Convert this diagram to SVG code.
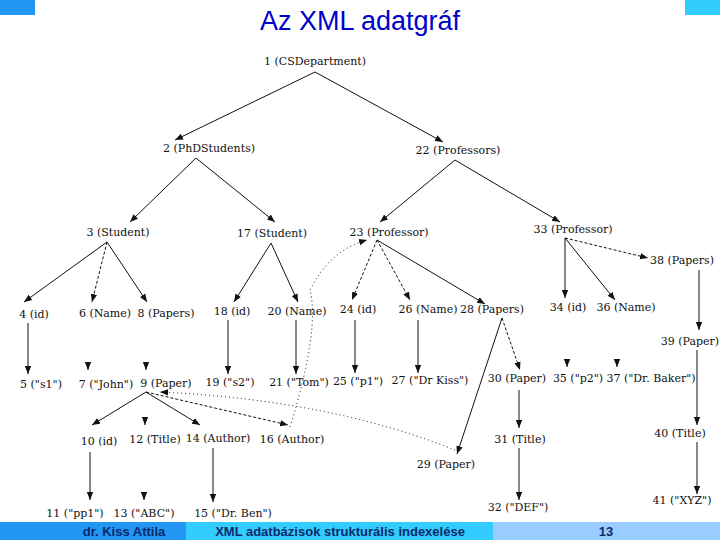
<svg xmlns="http://www.w3.org/2000/svg" width="720" height="540" viewBox="0 0 720 540">
<style>
.n{font-family:'DejaVu Serif','Liberation Serif',serif;font-size:11px;fill:#111;text-anchor:middle}
.e{stroke:#111;stroke-width:1;fill:none;marker-end:url(#a)}
.d{stroke-dasharray:3,2}
.o{stroke-dasharray:1,3}
.f{font-family:'Liberation Sans',sans-serif;font-size:13px;font-weight:bold;fill:#0a2a6a;text-anchor:middle}
</style>
<defs><marker id="a" viewBox="0 0 10 10" refX="10" refY="5" markerWidth="8" markerHeight="8" orient="auto-start-reverse"><path d="M0,1 L10,5 L0,9 z" fill="#111"/></marker></defs>
<rect width="720" height="540" fill="#fff"/>
<rect x="0" y="0" width="35" height="15" fill="#2196f3"/>
<rect x="685" y="0" width="35" height="15" fill="#33ccff"/>
<text x="360" y="30" font-family="Liberation Sans,sans-serif" font-size="27" fill="#0000cc" text-anchor="middle">Az XML adatgráf</text>
<g id="connectors">
<path class="e" d="M315,72 L175,140"/>
<path class="e" d="M315,72 L443,142"/>
<path class="e" d="M196,158 L130,222"/>
<path class="e" d="M196,158 L275,222"/>
<path class="e" d="M455,160 L380,222"/>
<path class="e" d="M455,160 L560,222"/>
<path class="e" d="M107,242 L24,302"/>
<path class="e d" d="M107,242 L92,302"/>
<path class="e" d="M107,242 L147,302"/>
<path class="e" d="M271,243 L234,302"/>
<path class="e" d="M271,243 L298,302"/>
<path class="e d" d="M377,240 L352,300"/>
<path class="e d" d="M377,240 L410,300"/>
<path class="e" d="M377,240 L485,304"/>
<path class="e" d="M565,238 L565,298"/>
<path class="e" d="M565,238 L615,300"/>
<path class="e d" d="M565,238 L648,258"/>
<path class="e" d="M699,270 L699,330"/>
<path class="e" d="M697,350 L697,425"/>
<path class="e" d="M697,442 L697,494"/>
<path class="e" d="M28,323 L28,374"/>
<path class="e" d="M88,362 L88,370"/>
<path class="e" d="M146,362 L146,370"/>
<path class="e" d="M228,320 L228,374"/>
<path class="e" d="M296,320 L296,374"/>
<path class="e" d="M355,320 L355,373"/>
<path class="e" d="M418,320 L418,373"/>
<path class="e d" d="M502,318 L520,370"/>
<path class="e" d="M502,318 L457,454"/>
<path class="e" d="M519,390 L519,428"/>
<path class="e" d="M519,448 L519,500"/>
<path class="e" d="M567,359 L567,367"/>
<path class="e" d="M617,359 L617,367"/>
<path class="e" d="M146,392 L92,425"/>
<path class="e" d="M145,417 L145,425"/>
<path class="e" d="M146,392 L200,425"/>
<path class="e d" d="M146,392 L288,425"/>
<path class="e" d="M90,452 L90,500"/>
<path class="e" d="M144,492 L144,500"/>
<path class="e" d="M213,448 L213,502"/>
<path class="e o" d="M290,427 Q320,330 310,290 Q330,250 367,240"/>
<path class="e o" d="M455,450 Q330,400 160,392"/>
</g>
<g id="n1"><text class="n" x="315" y="65">1 (CSDepartment)</text></g>
<g id="n2"><text class="n" x="209" y="152">2 (PhDStudents)</text></g>
<g id="n22"><text class="n" x="458" y="154">22 (Professors)</text></g>
<g id="n3"><text class="n" x="118" y="236">3 (Student)</text></g>
<g id="n17"><text class="n" x="272" y="237">17 (Student)</text></g>
<g id="n23"><text class="n" x="389" y="236">23 (Professor)</text></g>
<g id="n33"><text class="n" x="573" y="233">33 (Professor)</text></g>
<g id="n38"><text class="n" x="682" y="264">38 (Papers)</text></g>
<g id="n4"><text class="n" x="34" y="318">4 (id)</text></g>
<g id="n6"><text class="n" x="105" y="317">6 (Name)</text></g>
<g id="n8"><text class="n" x="166" y="317">8 (Papers)</text></g>
<g id="n18"><text class="n" x="232" y="315">18 (id)</text></g>
<g id="n20"><text class="n" x="297" y="315">20 (Name)</text></g>
<g id="n24"><text class="n" x="358" y="313">24 (id)</text></g>
<g id="n26"><text class="n" x="428" y="313">26 (Name)</text></g>
<g id="n28"><text class="n" x="492" y="313">28 (Papers)</text></g>
<g id="n34"><text class="n" x="568" y="311">34 (id)</text></g>
<g id="n36"><text class="n" x="626" y="311">36 (Name)</text></g>
<g id="n39"><text class="n" x="690" y="345">39 (Paper)</text></g>
<g id="n5"><text class="n" x="41" y="388">5 ("s1")</text></g>
<g id="n7"><text class="n" x="106" y="388">7 ("John")</text></g>
<g id="n9"><text class="n" x="166" y="387">9 (Paper)</text></g>
<g id="n19"><text class="n" x="230" y="386">19 ("s2")</text></g>
<g id="n21"><text class="n" x="299" y="386">21 ("Tom")</text></g>
<g id="n25"><text class="n" x="358" y="385">25 ("p1")</text></g>
<g id="n27"><text class="n" x="430" y="384">27 ("Dr Kiss")</text></g>
<g id="n30"><text class="n" x="517" y="382">30 (Paper)</text></g>
<g id="n35"><text class="n" x="578" y="382">35 ("p2")</text></g>
<g id="n37"><text class="n" x="651" y="382">37 ("Dr. Baker")</text></g>
<g id="n10"><text class="n" x="99" y="445">10 (id)</text></g>
<g id="n12"><text class="n" x="155" y="443">12 (Title)</text></g>
<g id="n14"><text class="n" x="218" y="442">14 (Author)</text></g>
<g id="n16"><text class="n" x="292" y="443">16 (Author)</text></g>
<g id="n31"><text class="n" x="520" y="443">31 (Title)</text></g>
<g id="n40"><text class="n" x="680" y="437">40 (Title)</text></g>
<g id="n29"><text class="n" x="446" y="468">29 (Paper)</text></g>
<g id="n11"><text class="n" x="75" y="517">11 ("pp1")</text></g>
<g id="n13"><text class="n" x="144" y="517">13 ("ABC")</text></g>
<g id="n15"><text class="n" x="233" y="517">15 ("Dr. Ben")</text></g>
<g id="n32"><text class="n" x="518" y="511">32 ("DEF")</text></g>
<g id="n41"><text class="n" x="682" y="504">41 ("XYZ")</text></g>
<rect x="0" y="522" width="186" height="18" fill="#2196f3"/>
<rect x="186" y="522" width="307" height="18" fill="#33ccff"/>
<rect x="493" y="522" width="227" height="18" fill="#99ccff"/>
<text class="f" x="124" y="536">dr. Kiss Attila</text>
<text class="f" x="340" y="536">XML adatbázisok strukturális indexelése</text>
<text class="f" x="606" y="536">13</text>
</svg>
